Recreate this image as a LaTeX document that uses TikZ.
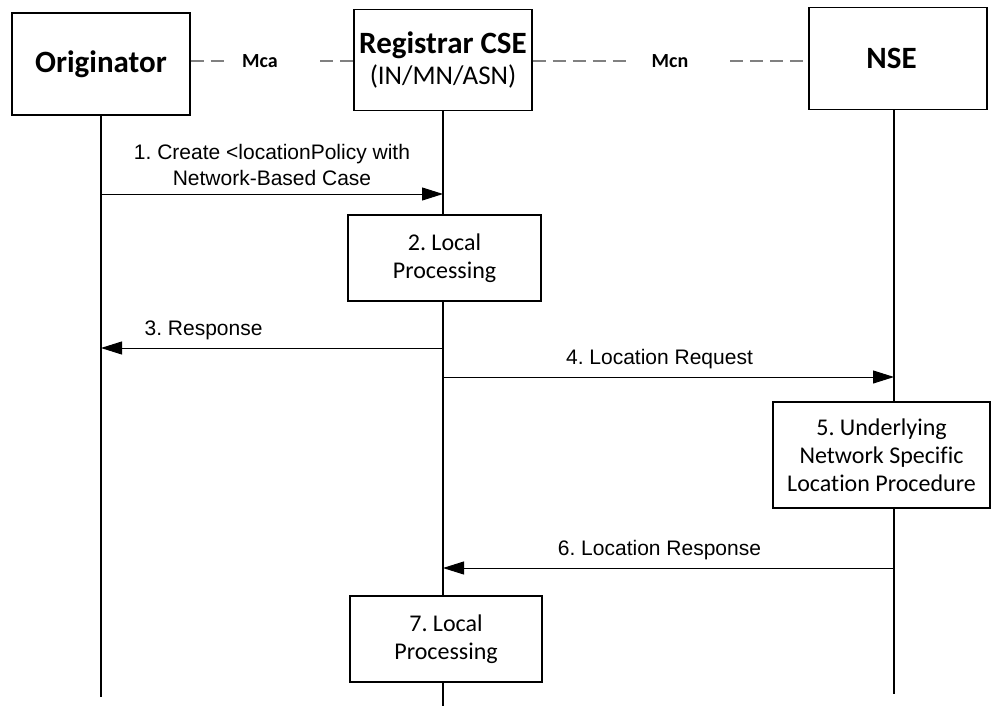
\documentclass[tikz,border=0pt]{standalone}
\usepackage{fontspec}
\setmainfont{Carlito}[Ligatures=NoCommon]
\newfontfamily\arialfont{Liberation Sans}
\usetikzlibrary{arrows.meta}
\usetikzlibrary{positioning}
\frenchspacing

\begin{document}
\begin{tikzpicture}[x=1pt,y=-1pt,
  actor/.style={draw,line width=1.4pt,fill=white,minimum width=178pt,
  minimum height=102pt,align=center,font=\fontsize{31}{34}\selectfont\bfseries},
  proc box/.style={draw,line width=1.2pt,fill=white,align=center,
  minimum height=86pt,font=\fontsize{24}{28}\selectfont},
  iface/.style={draw=gray,line width=2.2pt,dash pattern=on 13pt off 7pt},
  iface label/.style={font=\fontsize{20}{24}\selectfont\bfseries},
  lifeline/.style={line width=1.2pt},
  msg/.style={-{Triangle[length=21pt,width=13pt]},line width=1pt},
  msg label/.style={font=\arialfont\fontsize{21}{26}\selectfont,align=center}]
  \useasboundingbox (0,0) rectangle (992,706);

  % lifeline ends
  \coordinate (o end) at (101,697);
  \coordinate (r end) at (443,706);
  \coordinate (n end) at (894,694);
  \draw[lifeline] (101,100) -- (o end);
  \draw[lifeline] (443,100) -- (r end);
  \draw[lifeline] (894,100) -- (n end);

  % entities
  \node[actor] (orig) at (101,64) {Originator};
  \node[actor,minimum height=101pt] (reg) at (443,60)
    {Registrar CSE\\[-3pt]{\fontsize{27}{30}\selectfont\mdseries (IN/MN/ASN)}};
  \node[actor] (nse) at (898,58.5) {NSE\hspace*{13pt}};

  % reference points
  \node[iface label] (mca) at (260,61) {Mca};
  \node[iface label] (mcn) at (670,61) {Mcn};
  \coordinate (mca l) at (225,61);
  \coordinate (mca r) at (320,61);
  \coordinate (mcn l) at (632,61);
  \coordinate (mcn r) at (730,61);
  \draw[iface] (orig.east |- mca l) -- (mca l);
  \draw[iface] (mca r) -- (reg.west |- mca r);
  \draw[iface] (reg.east |- mcn l) -- (mcn l);
  \draw[iface] (mcn r) -- (nse.west |- mcn r);

  % message points on lifelines
  \coordinate (o1) at (101,194);
  \coordinate (r1) at (443,194);
  \coordinate (o3) at (101,348);
  \coordinate (r3) at (443,348);
  \coordinate (r4) at (443,377);
  \coordinate (n4) at (894,377);
  \coordinate (n6) at (894,568);
  \coordinate (r6) at (443,568);

  % processing steps
  \node[proc box,minimum width=193pt] (lp1) at (444.5,258) {2. Local\\Processing};
  \node[proc box,minimum width=217pt,minimum height=106pt] (ulp) at (881.5,455)
    {5. Underlying\\Network Specific\\Location Procedure};
  \node[proc box,minimum width=192pt] (lp2) at (446,639) {7. Local\\Processing};

  % messages
  \draw[msg] (o1) -- node[msg label,above=4pt] {1. Create <locationPolicy with\\Network-Based Case} (r1);
  \draw[msg] (r3) -- node[msg label,above=4pt,pos=0.7] {3. Response} (o3);
  \draw[msg] (r4) -- node[msg label,above=4pt,pos=0.48] {4. Location Request} (n4);
  \draw[msg] (n6) -- node[msg label,above=4pt,pos=0.52] {6. Location Response} (r6);
\end{tikzpicture}
\end{document}
